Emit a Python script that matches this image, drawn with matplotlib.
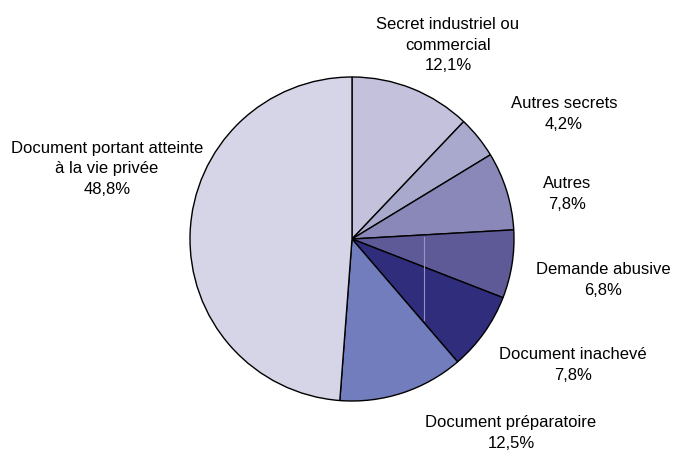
import matplotlib
matplotlib.use("Agg")
import matplotlib.pyplot as plt

categories = ["Secret industriel ou\ncommercial", "Autres secrets", "Autres", "Demande abusive",
              "Document inachevé", "Document préparatoire", "Document portant atteinte\nà la vie privée"]
values = [12.1, 4.2, 7.8, 6.8, 7.8, 12.5, 48.8]
value_labels = ["12,1%", "4,2%", "7,8%", "6,8%", "7,8%", "12,5%", "48,8%"]
colors = ["#c3c1dc", "#a9a8cd", "#8a88b9", "#5e5a97", "#302d7c", "#727dbd", "#d6d5e7"]

W, H = 677, 451
fig = plt.figure(figsize=(W/100, H/100), dpi=100)
ax = fig.add_axes([0, 0, 1, 1])

cx, cy, r = 352, 239, 162
wedges, _ = ax.pie(values, colors=colors, center=(cx, cy), radius=r, startangle=-90, counterclock=True,
                   wedgeprops=dict(edgecolor='black', linewidth=1.0), frame=True)
# faint rendering artefact line seen in the reference
ax.plot([424, 424], [237, 320], color='#9593c2', linewidth=0.8, zorder=5)

ax.set_xlim(0, W)
ax.set_ylim(H, 0)
ax.set_aspect('equal')
ax.axis('off')

label_pos = [(448, 45), (564, 114), (567, 194), (603, 280), (573, 365), (511, 433), (107, 169)]
for cat, vl, (x, y) in zip(categories, value_labels, label_pos):
    ax.text(x, y, cat + "\n" + vl, ha='center', va='center', fontsize=12,
            family='Liberation Sans', linespacing=1.45, color='black')

fig.savefig("out.png", dpi=100)
